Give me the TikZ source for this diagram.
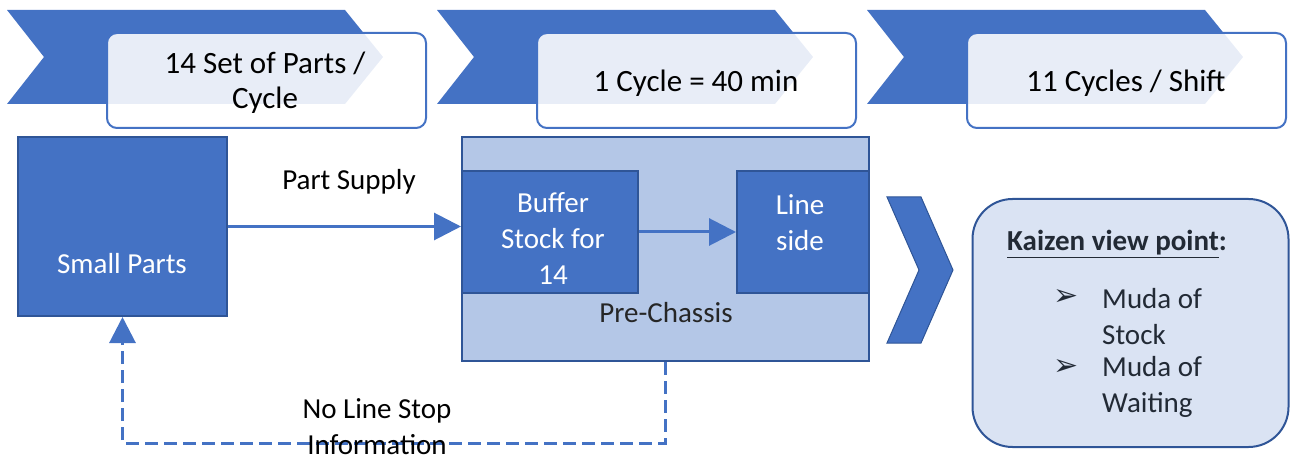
\documentclass[tikz,border=0pt]{standalone}
\usepackage{fontspec}
\setmainfont{Carlito}
\newfontfamily\symfont{DejaVu Sans}
\usetikzlibrary{arrows.meta}
\definecolor{mblue}{HTML}{4472C4}
\definecolor{dblue}{HTML}{2F5597}
\definecolor{lblue}{HTML}{B4C7E7}
\definecolor{kblue}{HTML}{DAE3F3}
\definecolor{dtext}{HTML}{262626}
\definecolor{ktext}{HTML}{222A35}
\newcommand{\fsA}{\fontsize{31pt}{35pt}\selectfont}
\newcommand{\fsB}{\fontsize{29pt}{36pt}\selectfont}
\tikzset{
  chev/.style={fill=mblue},
  topbox/.style={draw=mblue, line width=2pt, fill=white, fill opacity=0.88,
    rounded corners=10pt, minimum width=319pt, minimum height=95pt},
  toptext/.style={align=center, font=\fsA, text=black, inner sep=0pt},
  bluebox/.style={draw=dblue, line width=2pt, fill=mblue, inner sep=0pt},
  pcbox/.style={draw=dblue, line width=2pt, fill=lblue, inner sep=0pt},
  wtext/.style={text=white, font=\fsB, align=center, inner sep=0pt},
  lbl/.style={text=black, font=\fsB, align=center, inner sep=0pt},
  arr/.style={draw=mblue, line width=3pt, -{Triangle[length=27pt, width=27pt]}},
  dasharr/.style={draw=mblue, line width=3pt, dash pattern=on 13pt off 6pt, -{Triangle[length=26pt, width=26pt]}},
  bullet/.style={text=ktext, font=\fontsize{30pt}{30pt}\symfont, inner sep=0pt},
}
\begin{document}
\begin{tikzpicture}[x=1pt, y=-1pt]
\useasboundingbox (0,0) rectangle (1290,462);

% top chevrons
\foreach \dx in {0,430,860} {
  \fill[chev] (7+\dx,10) -- (345+\dx,10) -- (383+\dx,57) -- (345+\dx,104) -- (7+\dx,104) -- (44+\dx,57) -- cycle;
}
\node[topbox] (t1) at (266.5,80.5) {};
\node[topbox] (t2) at (696.5,80.5) {};
\node[topbox] (t3) at (1126.5,80.5) {};
\node[toptext] (t1t) at (265,83) {14 Set of Parts /\\Cycle};
\node[toptext] (t2t) at (696,83) {1 Cycle = 40 min};
\node[toptext] (t3t) at (1126,83) {11 Cycles / Shift};

% Small Parts
\node[bluebox, minimum width=209pt, minimum height=179pt] (sp) at (122.5,226.5) {};
\node[wtext] (spt) at (122,264) {Small Parts};

% Pre-Chassis
\node[pcbox, minimum width=407pt, minimum height=224pt] (pc) at (665.5,249) {};
\node[text=dtext, font=\fsB, inner sep=0pt] (pct) at (666,313) {Pre-Chassis};

\node[bluebox, minimum width=176pt, minimum height=122pt] (buf) at (550,232) {};
\node[wtext] (buft) at (553,238) {Buffer\\Stock for\\14};
\node[bluebox, minimum width=132pt, minimum height=122pt] (ls) at (803,232) {};
\node[wtext] (lst) at (800,223) {Line\\side};

% connectors
\draw[arr] (sp.east) -- (sp.east -| buf.west);
\node[lbl] (pstxt) at (349,182) {Part Supply};
\draw[arr] (buf.east) -- (ls.west);

\coordinate (dA) at (pc.south |- 0,443);
\coordinate (dB) at (sp.south |- 0,443);
\draw[dasharr] (pc.south) -- (dA) -- (dB) -- (sp.south);
\node[lbl, text=black, font=\fontsize{29pt}{36pt}\selectfont] (nls) at (377,427) {No Line Stop\\Information};

% big chevron
\draw[fill=mblue, draw=dblue, line width=1pt] (887,197) -- (921,197) -- (953,270) -- (921,343) -- (887,343) -- (919,270) -- cycle;

% Kaizen box
\node[draw=dblue, line width=2pt, fill=kblue, rounded corners=40pt, minimum width=316pt, minimum height=248pt] (kz) at (1130.5,323) {};
\node[anchor=west, text=ktext, font=\fsB, inner sep=0pt] (kh) at (1007,244) {\textbf{\underline{Kaizen view point}:}};
\node[bullet] (b1) at (1066,298) {➢};
\node[bullet] (b2) at (1066,368) {➢};
\node[anchor=west, text=ktext, font=\fsB, align=left, inner sep=0pt] (m1) at (1102,317) {Muda of\\Stock};
\node[anchor=west, text=ktext, font=\fsB, align=left, inner sep=0pt] (m2) at (1102,386.5) {Muda of\\Waiting};
\end{tikzpicture}
\end{document}
